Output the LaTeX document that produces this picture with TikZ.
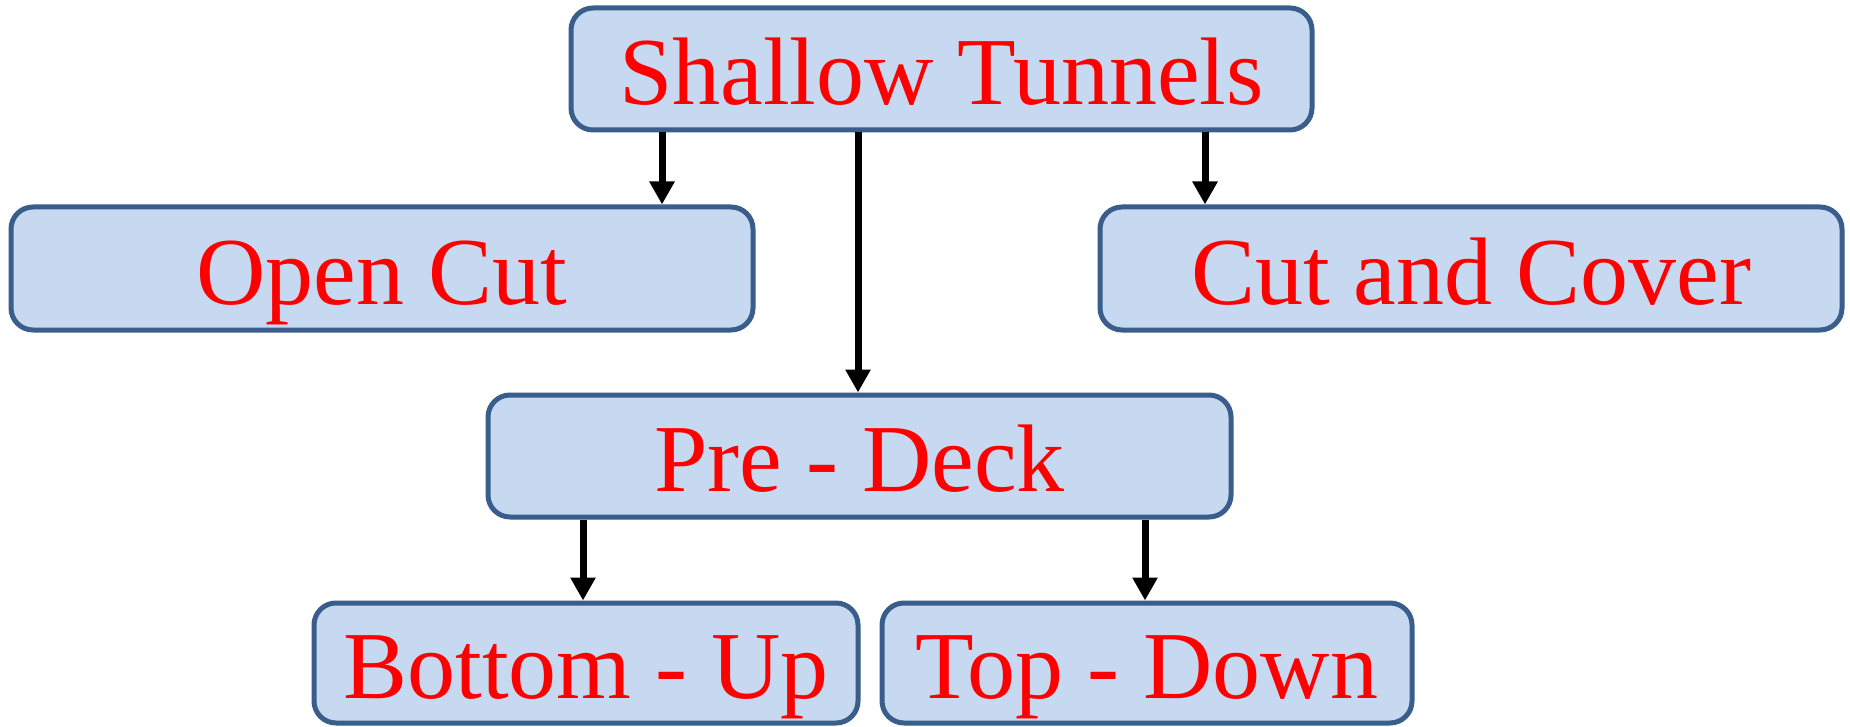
\documentclass[tikz,border=0pt]{standalone}
\usepackage{fontspec}
\setmainfont{Liberation Serif}
\usetikzlibrary{arrows.meta}
\definecolor{boxfill}{HTML}{C6D9F0}
\definecolor{boxline}{HTML}{3A5E8B}
\definecolor{labelred}{HTML}{FF0000}
\begin{document}
\begin{tikzpicture}[x=0.5pt,y=-0.5pt,
  boxnode/.style={draw=boxline, fill=boxfill, line width=2.5pt,
    rounded corners=11pt, inner sep=0pt, anchor=center,
    text=labelred, font=\fontsize{48}{57}\selectfont,
    text height=35.8pt, text depth=0pt},
  arr/.style={line width=3.5pt, -{Triangle[width=12pt,length=11.5pt]}}]
\useasboundingbox (0,0) rectangle (1850,727);
% boxes (centres and sizes in the picture's pixel grid)
\node[boxnode, minimum width=370.5pt, minimum height=61pt] (shallow) at (941.5,69) {Shallow Tunnels};
\node[boxnode, minimum width=371pt, minimum height=61.5pt] (opencut) at (382,268.5) {Open Cut};
\node[boxnode, minimum width=371pt, minimum height=61.5pt] (cutcover) at (1471,268.5) {Cut and Cover};
\node[boxnode, minimum width=371.5pt, minimum height=61pt] (predeck) at (859.5,456) {Pre - Deck};
\node[boxnode, minimum width=272pt, minimum height=60pt] (bottomup) at (586,663) {Bottom - Up};
\node[boxnode, minimum width=265pt, minimum height=60pt] (topdown) at (1147,663) {Top - Down};
% columns of the connectors
\coordinate (c1) at (662,0);
\coordinate (c2) at (858,0);
\coordinate (c3) at (1205,0);
\coordinate (c4) at (583,0);
\coordinate (c5) at (1145,0);
\draw[arr] (c1 |- shallow.south) -- (c1 |- opencut.north);
\draw[arr] (c2 |- shallow.south) -- (c2 |- predeck.north);
\draw[arr] (c3 |- shallow.south) -- (c3 |- cutcover.north);
\draw[arr] (c4 |- predeck.south) -- (c4 |- bottomup.north);
\draw[arr] (c5 |- predeck.south) -- (c5 |- topdown.north);
\end{tikzpicture}
\end{document}
